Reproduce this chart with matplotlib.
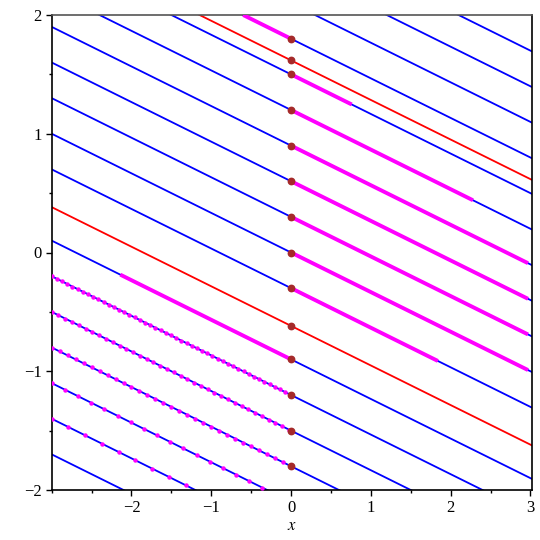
import numpy as np
import matplotlib
matplotlib.use("Agg")
import matplotlib.pyplot as plt
from matplotlib.ticker import MultipleLocator

# family of solution lines y = slope*x + c
slope = -1.0 / 3.0
blue_c = [-3.0, -2.7, -2.4, -2.1, -1.8, -1.5, -1.2, -0.9, -0.3,
          0.0, 0.3, 0.6, 0.9, 1.2, 1.5, 1.8, 2.1, 2.4, 2.7]
red_c = [1.618, -0.618]

# initial points on x = 0
init_y = [1.8, 1.618, 1.5, 1.2, 0.9, 0.6, 0.3, 0.0, -0.3, -0.618,
          -0.9, -1.2, -1.5, -1.8]

# thick magenta pieces: intercept, x start, x end
thick_c = [1.8, 1.5, 1.2, 0.9, 0.6, 0.3, 0.0, -0.3, -0.9]
thick_x0 = [-0.6, 0.0, 0.0, 0.0, 0.0, 0.0, 0.0, 0.0, -2.14]
thick_x1 = [0.0, 0.76, 2.28, 2.97, 2.97, 2.97, 2.97, 1.84, 0.0]

# dotted magenta pieces: intercept, x start, x end, dot spacing
dot_c = [-1.2, -1.5, -1.8, -2.1, -2.4]
dot_x0 = [-3.0, -3.0, -3.0, -3.0, -3.0]
dot_x1 = [0.0, 0.0, 0.0, -0.3, -1.2]
dot_step = [0.065, 0.085, 0.1, 0.165, 0.21]

plt.rcParams['font.family'] = ['Liberation Serif', 'DejaVu Serif']
plt.rcParams['mathtext.fontset'] = 'stix'

fig = plt.figure(figsize=(5.4, 5.4), dpi=100)
ax = fig.add_axes([51.7 / 540, 1 - 490 / 540, (532 - 51.7) / 540, (490 - 15) / 540])

xs = np.array([-3.5, 3.5])
for c in blue_c:
    ax.plot(xs, slope * xs + c, color='#0000ff', lw=1.3, zorder=2)
for c in red_c:
    ax.plot(xs, slope * xs + c, color='#ff0000', lw=1.3, zorder=2)

for c, a, b in zip(thick_c, thick_x0, thick_x1):
    seg = np.array([a, b])
    ax.plot(seg, slope * seg + c, color='#ff00ff', lw=2.8, zorder=3,
            solid_capstyle='butt')

for c, a, b, s in zip(dot_c, dot_x0, dot_x1, dot_step):
    px = np.arange(a, b + 1e-9, s)
    ax.plot(px, slope * px + c, ls='none', marker='o', ms=3.2,
            mfc='#ff00ff', mec='none', zorder=4)

ax.plot(np.zeros(len(init_y)), init_y, ls='none', marker='o', ms=4.6,
        mfc='#a52a2a', mec='#a52a2a', zorder=5)

ax.set_xlim(-3.0, 3.02)
ax.set_ylim(-2.0, 2.0)
ax.set_xticks([-2, -1, 0, 1, 2, 3])
ax.set_yticks([-2, -1, 0, 1, 2])
ax.xaxis.set_minor_locator(MultipleLocator(0.5))
ax.yaxis.set_minor_locator(MultipleLocator(0.5))
ax.tick_params(which='major', direction='out', length=4, width=1, labelsize=12, pad=3)
ax.tick_params(which='minor', direction='out', length=2.5, width=1)
ax.set_xlabel('$x$', fontsize=12, labelpad=2)

for side in ['left', 'bottom', 'right']:
    ax.spines[side].set_color('black')
ax.spines['top'].set_color('#555555')
for sp in ax.spines.values():
    sp.set_linewidth(1.2)

fig.savefig('out.png', dpi=100)
